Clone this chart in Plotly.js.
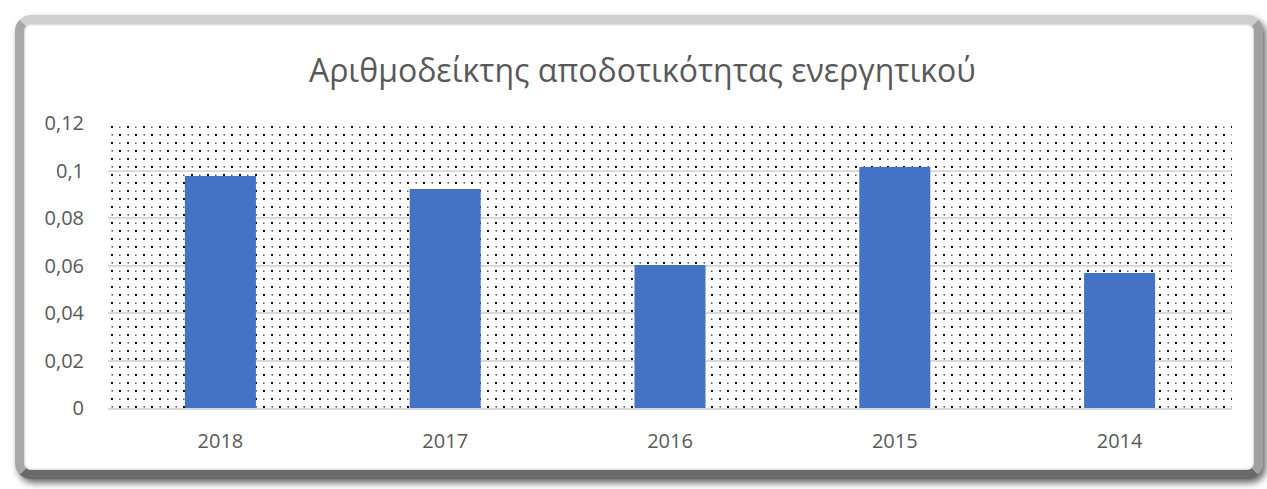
<!DOCTYPE html>
<html>
<head>
<meta charset="utf-8">
<script src="https://cdn.plot.ly/plotly-3.0.1.min.js"></script>
<style>
  html, body { margin: 0; padding: 0; background: #ffffff; }
  #wrap { position: relative; width: 1267px; height: 489px; overflow: hidden; }
  #frame {
    position: absolute; left: 15px; top: 15px; width: 1230px; height: 446px;
    border-style: solid; border-width: 9px;
    border-color: #cfcfcf #a0a0a0 #6a6a6a #a8a8a8;
    border-radius: 16px;
    box-shadow: 3px 4px 7px rgba(0,0,0,0.6), inset 0 0 3px rgba(0,0,0,0.35);
    background: #ffffff;
  }
  #chart { position: absolute; left: 0; top: 0; width: 1267px; height: 489px; }
</style>
</head>
<body>
<div id="wrap">
  <div id="frame"></div>
  <div id="chart"></div>
</div>
<script>
const years = ["2018", "2017", "2016", "2015", "2014"];
const values = [0.0977, 0.0922, 0.0602, 0.1015, 0.0568];
const titleText = "Αριθμοδείκτης αποδοτικότητας ενεργητικού";

const tile = '<svg xmlns="http://www.w3.org/2000/svg" width="1124" height="285">' +
  '<defs><pattern id="p" width="16" height="16" patternUnits="userSpaceOnUse">' +
  '<rect x="3" y="3" width="2" height="2" fill="#000"/>' +
  '<rect x="11" y="3.5" width="1.5" height="1.5" fill="#555"/>' +
  '<rect x="3.5" y="11" width="1.5" height="1.5" fill="#555"/>' +
  '<rect x="11" y="11" width="2" height="2" fill="#000"/>' +
  '</pattern></defs><rect width="1124" height="285" fill="url(#p)"/></svg>';
const bgUri = 'data:image/svg+xml;charset=utf-8,' + encodeURIComponent(tile);

const trace = {
  type: 'bar',
  x: years,
  y: values,
  marker: { color: '#4472C4', line: { width: 0 } },
  hoverinfo: 'x+y'
};

const layout = {
  width: 1267, height: 489,
  margin: { l: 108, r: 35, t: 123, b: 81 },
  paper_bgcolor: 'rgba(0,0,0,0)',
  plot_bgcolor: 'rgba(0,0,0,0)',
  separators: ',.',
  bargap: 0.684,
  showlegend: false,
  title: {
    text: titleText,
    x: 0.507, xanchor: 'center',
    y: 0.855, yanchor: 'middle',
    font: { family: 'Open Sans, sans-serif', size: 32, color: '#595959' }
  },
  xaxis: {
    type: 'category',
    tickfont: { family: 'Open Sans, sans-serif', size: 20, color: '#595959' },
    showgrid: false,
    showline: true, linecolor: '#d9d9d9', linewidth: 2,
    ticks: '', ticklen: 0, ticklabelstandoff: 14,
    automargin: false
  },
  yaxis: {
    range: [0, 0.12],
    dtick: 0.02,
    tick0: 0,
    tickfont: { family: 'Open Sans, sans-serif', size: 20, color: '#595959' },
    showgrid: true, gridcolor: '#d9d9d9', gridwidth: 2,
    zeroline: false,
    showline: false,
    ticks: '', ticklabelstandoff: 23,
    automargin: false
  },
  images: [{
    source: bgUri,
    xref: 'paper', yref: 'paper',
    x: 0, y: 1, sizex: 1, sizey: 1,
    xanchor: 'left', yanchor: 'top',
    sizing: 'stretch', layer: 'below'
  }]
};

Plotly.newPlot('chart', [trace], layout, { displayModeBar: false, staticPlot: true });
</script>
</body>
</html>
